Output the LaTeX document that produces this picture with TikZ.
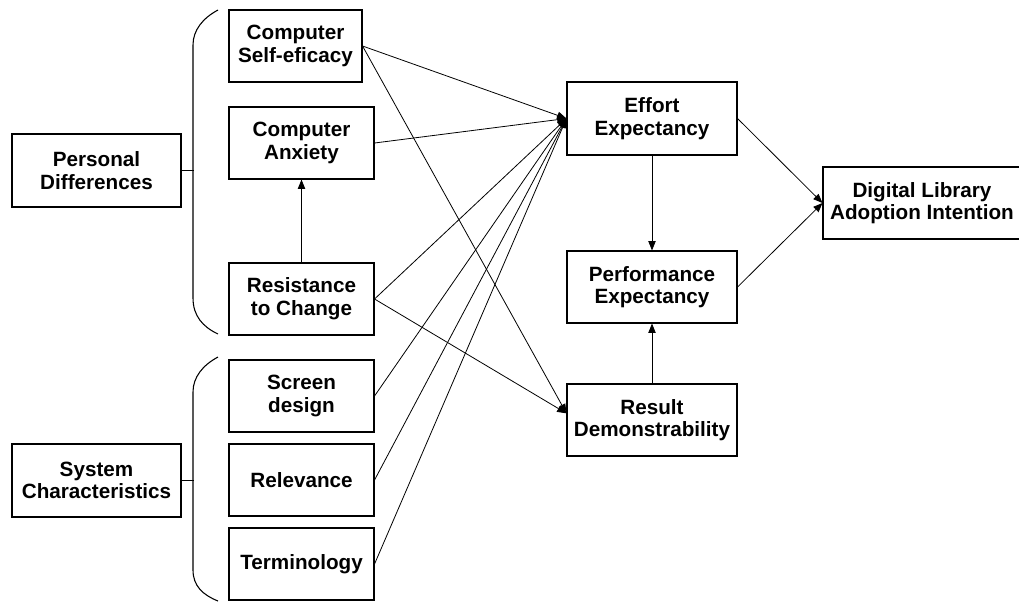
\documentclass[tikz,border=0pt]{standalone}
\usepackage{fontspec}
\setmainfont{Liberation Sans}
\usetikzlibrary{arrows.meta}
\tikzset{
  box/.style={draw, line width=0.8pt, align=center, inner sep=0pt,
    font=\bfseries\fontsize{15.5}{17}\selectfont, minimum height=54pt},
  link/.style={line width=0.6pt, -{Triangle[length=7pt,width=5.5pt]}},
  brace/.style={line width=0.8pt}
}
\begin{document}
\begin{tikzpicture}[x=0.75pt,y=-0.75pt]
  \useasboundingbox (0,0) rectangle (1019,601);
  % groups
  \node[box, minimum width=126.75pt, minimum height=54.75pt] (pers) at (96.5,170.5) {Personal\\Differences};
  \node[box, minimum width=126.75pt, minimum height=54.75pt] (sys) at (96.5,480.5) {System\\Characteristics};
  % antecedents
  \node[box, minimum width=99.75pt] (cse) at (295.5,46) {Computer\\Self-eficacy};
  \node[box, minimum width=108.75pt] (anx) at (301.5,143) {Computer\\Anxiety};
  \node[box, minimum width=108.75pt] (res) at (301.5,299) {Resistance\\to Change};
  \node[box, minimum width=108.75pt] (scr) at (301.5,396) {Screen\\design};
  \node[box, minimum width=108.75pt] (rel) at (301.5,480) {Relevance};
  \node[box, minimum width=108.75pt] (ter) at (301.5,564) {Terminology};
  % constructs
  \node[box, minimum width=127.5pt, minimum height=54.75pt] (eff) at (652,118.5) {Effort\\Expectancy};
  \node[box, minimum width=127.5pt] (perf) at (652,287) {Performance\\Expectancy};
  \node[box, minimum width=127.5pt] (resd) at (652,420) {Result\\Demonstrability};
  \node[box, minimum width=148.5pt] (dig) at (922,203) {Digital Library\\Adoption Intention};
  \coordinate (resin) at ([yshift=5pt]resd.west);

  % braces
  \draw[brace] (218,10) .. controls (203,18) and (193,30) .. (193,45)
    -- (193,298) .. controls (193,316) and (203,327) .. (218,334);
  \draw[brace] (218,357) .. controls (203,365) and (193,377) .. (193,392)
    -- (193,570) .. controls (193,586) and (203,595) .. (218,601);
  \draw[brace] (pers.east) -- ++(12,0);
  \draw[brace] (sys.east) -- ++(12,0);

  \begin{scope}[link]
    \draw (cse.east) to (eff.west);
    \draw (anx.east) to (eff.west);
    \draw (res.east) to (eff.west);
    \draw (scr.east) to (eff.west);
    \draw (rel.east) to (eff.west);
    \draw (ter.east) to (eff.west);
    \draw (cse.east) to (resin);
    \draw (res.east) to (resin);
    \draw (res.north) to (anx.south);
    \draw (eff.south) to (perf.north);
    \draw (resd.north) to (perf.south);
    \draw (eff.east) to (dig.west);
    \draw (perf.east) to (dig.west);
  \end{scope}
\end{tikzpicture}
\end{document}
